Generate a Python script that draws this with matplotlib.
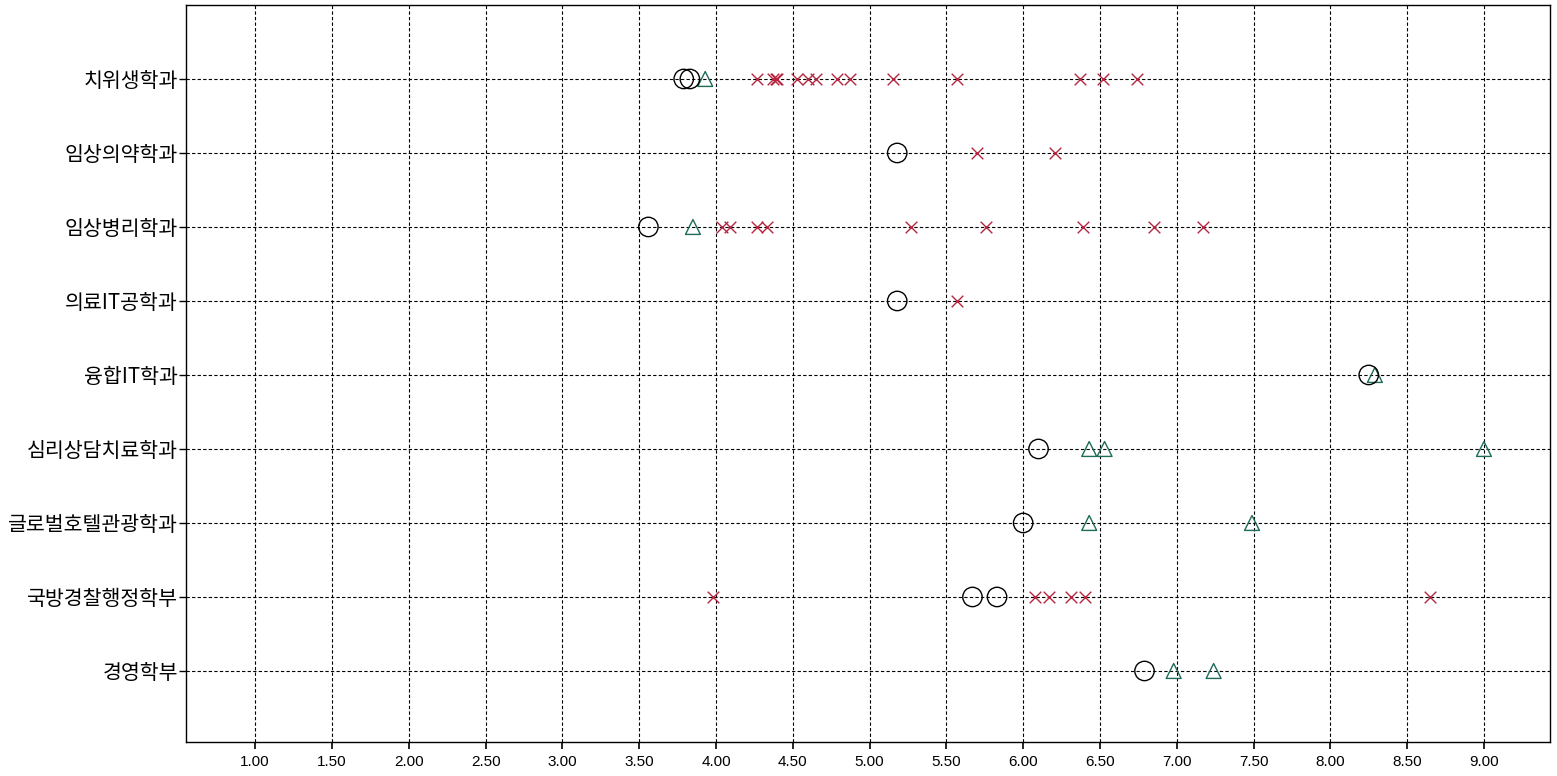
import matplotlib
matplotlib.use("Agg")
import matplotlib.pyplot as plt

plt.rcParams["font.family"] = ["Liberation Sans", "Noto Sans CJK KR", "DejaVu Sans"]

# departments, bottom to top
departments = [
    "경영학부",
    "국방경찰행정학부",
    "글로벌호텔관광학과",
    "심리상담치료학과",
    "융합IT학과",
    "의료IT공학과",
    "임상병리학과",
    "임상의약학과",
    "치위생학과",
]

# circle points (department, value)
circle_dept = ["치위생학과", "치위생학과", "임상의약학과", "임상병리학과", "의료IT공학과",
               "융합IT학과", "심리상담치료학과", "글로벌호텔관광학과",
               "국방경찰행정학부", "국방경찰행정학부", "경영학부"]
circle_val = [3.79, 3.83, 5.18, 3.56, 5.18, 8.25, 6.10, 6.00, 5.67, 5.83, 6.79]

# triangle points
tri_dept = ["치위생학과", "임상병리학과", "융합IT학과", "심리상담치료학과", "심리상담치료학과",
            "심리상담치료학과", "글로벌호텔관광학과", "글로벌호텔관광학과", "경영학부", "경영학부"]
tri_val = [3.93, 3.85, 8.29, 6.43, 6.53, 9.00, 6.43, 7.49, 6.98, 7.24]

# cross points
cross_dept = (["치위생학과"] * 14 + ["임상의약학과"] * 2 + ["임상병리학과"] * 9
              + ["의료IT공학과"] + ["국방경찰행정학부"] * 6)
cross_val = [4.27, 4.37, 4.39, 4.40, 4.53, 4.60, 4.65, 4.79, 4.87, 5.15, 5.57, 6.37, 6.52, 6.74,
             5.70, 6.21,
             4.04, 4.09, 4.27, 4.33, 5.27, 5.76, 6.39, 6.85, 7.17,
             5.57,
             3.98, 6.08, 6.17, 6.31, 6.40, 8.65]

x_ticks = [1.0, 1.5, 2.0, 2.5, 3.0, 3.5, 4.0, 4.5, 5.0, 5.5, 6.0, 6.5, 7.0, 7.5, 8.0, 8.5, 9.0]

pos = {d: i + 1 for i, d in enumerate(departments)}

fig = plt.figure(figsize=(15.57, 7.76), dpi=100)
ax = fig.add_axes([0.1195, 0.0438, 0.876, 0.9498])

ax.scatter(cross_val, [pos[d] for d in cross_dept], marker="x", s=70,
           color="#b5253f", linewidths=1.0, zorder=3)
ax.scatter(tri_val, [pos[d] for d in tri_dept], marker="^", s=115,
           facecolors="none", edgecolors="#1d6b58", linewidths=1.0, zorder=4)
ax.scatter(circle_val, [pos[d] for d in circle_dept], marker="o", s=195,
           facecolors="none", edgecolors="black", linewidths=1.0, zorder=5)

ax.set_xlim(0.55, 9.43)
ax.set_ylim(0.04, 10.0)
ax.set_xticks(x_ticks)
ax.set_xticklabels([f"{v:.2f}" for v in x_ticks], fontsize=11)
ax.set_yticks([pos[d] for d in departments])
ax.set_yticklabels(departments, fontsize=14.8,
                   family=["Noto Sans CJK KR", "DejaVu Sans"])

ax.grid(True, color="black", linestyle=(0, (3, 2)), linewidth=0.8)
ax.set_axisbelow(True)
ax.tick_params(axis="x", length=5, width=1.2, pad=4)
ax.tick_params(axis="y", length=5, width=1.0, pad=1)
for sp in ax.spines.values():
    sp.set_linewidth(1.0)

fig.savefig("out.png", dpi=100)
